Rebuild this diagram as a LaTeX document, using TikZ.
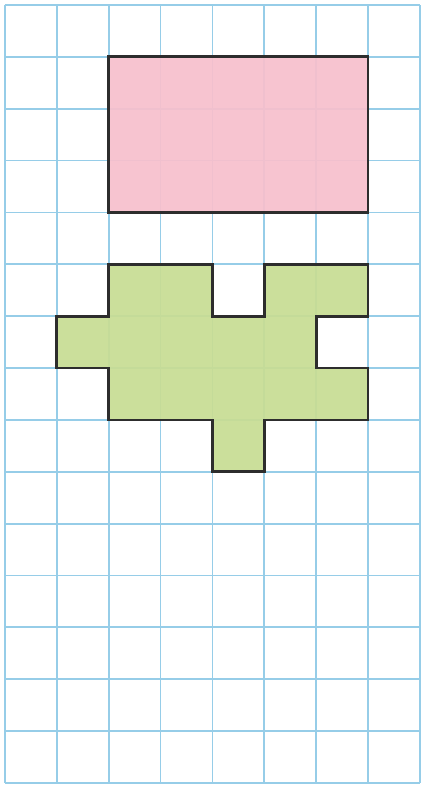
\documentclass[tikz,border=0pt]{standalone}
\definecolor{gridblue}{RGB}{150,205,232}
\definecolor{pinkfill}{RGB}{247,192,205}
\definecolor{greenfill}{RGB}{200,221,148}
\definecolor{outline}{RGB}{45,45,45}
\tikzset{
  gridline/.style={draw=gridblue, line width=1pt},
  shapeoutline/.style={draw=outline, line width=1.5pt, line join=miter},
}
\begin{document}
\begin{tikzpicture}[x=1cm,y=1cm]
\useasboundingbox (-0.096,-0.04) rectangle (8.054,15.096);
\fill[white] (-0.096,-0.04) rectangle (8.054,15.096);
\draw[gridline] (0,0) grid (8,15);
\path[fill=pinkfill, fill opacity=0.93] (2,14) rectangle (7,11);
\path[fill=greenfill, fill opacity=0.93] (2,10) -- (4,10) -- (4,9) -- (5,9) -- (5,10) -- (7,10) -- (7,9) -- (6,9) -- (6,8) -- (7,8) -- (7,7) -- (5,7) -- (5,6) -- (4,6) -- (4,7) -- (2,7) -- (2,8) -- (1,8) -- (1,9) -- (2,9) -- cycle;
\draw[shapeoutline] (2,14) rectangle (7,11);
\draw[shapeoutline] (2,10) -- (4,10) -- (4,9) -- (5,9) -- (5,10) -- (7,10) -- (7,9) -- (6,9) -- (6,8) -- (7,8) -- (7,7) -- (5,7) -- (5,6) -- (4,6) -- (4,7) -- (2,7) -- (2,8) -- (1,8) -- (1,9) -- (2,9) -- cycle;
\end{tikzpicture}
\end{document}
